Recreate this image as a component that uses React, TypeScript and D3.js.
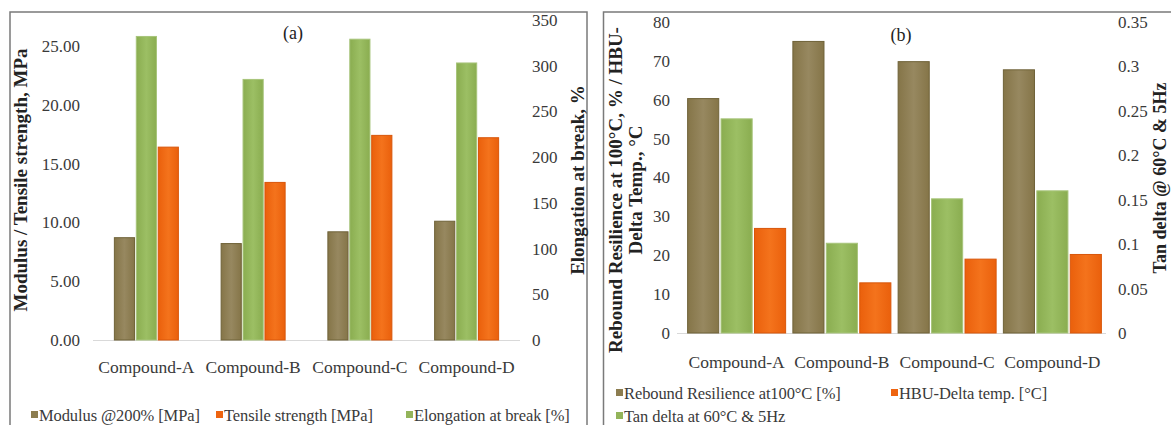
import React from "react";
import * as d3 from "d3";

const categories = ["Compound-A", "Compound-B", "Compound-C", "Compound-D"];

// Panel (a)
const modulus = [8.7, 8.2, 9.2, 10.1];
const tensile = [16.4, 13.4, 17.4, 17.2];
const elongation = [332, 285, 329, 303];
const aLeftTicks = [0, 5, 10, 15, 20, 25];
const aRightTicks = [0, 50, 100, 150, 200, 250, 300, 350];

// Panel (b)
const rebound = [60.3, 75, 69.8, 67.7];
const tanDelta = [0.241, 0.101, 0.151, 0.16];
const hbu = [26.9, 12.9, 19.0, 20.2];
const bLeftTicks = [0, 10, 20, 30, 40, 50, 60, 70, 80];
const bRightTicks = [0, 0.05, 0.1, 0.15, 0.2, 0.25, 0.3, 0.35];

const BROWN = "#8c7d50";
const GREEN = "#93b45a";
const ORANGE = "#ee6410";
const FONT = "'Liberation Serif', 'Times New Roman', serif";
const TEXT = "#3a3a3a";

const gradId: Record<string, string> = { [BROWN]: "gBrown", [GREEN]: "gGreen", [ORANGE]: "gOrange" };
const strokeOf: Record<string, string> = { [BROWN]: "#6f6238", [GREEN]: "#a7c47a", [ORANGE]: "#d8560a" };

type Series = { name: string; values: number[]; color: string; axis: "L" | "R" };

function Panel(props: {
  x0: number; x1: number; baseY: number; topY: number;
  lineX0: number; lineX1: number; groupW: number; pad: number;
  leftDomain: [number, number]; leftTop: number; rightDomain: [number, number];
  leftTicks: number[]; rightTicks: number[]; leftFmt: (v: number) => string; rightFmt: (v: number) => string;
  leftLabelX: number; rightLabelX: number; catY: number; series: Series[];
}) {
  const p = props;
  const xb = d3.scaleBand<string>().domain(categories).range([p.x0, p.x1]).padding(0);
  const yL = d3.scaleLinear().domain(p.leftDomain).range([p.baseY, p.leftTop]);
  const yR = d3.scaleLinear().domain(p.rightDomain).range([p.baseY, p.topY]);
  const inner = d3.scaleBand<string>().domain(p.series.map((s) => s.name)).range([-p.groupW / 2, p.groupW / 2]).paddingInner(p.pad).paddingOuter(0);
  return (
    <g>
      <line x1={p.lineX0} x2={p.lineX1} y1={p.baseY + 0.5} y2={p.baseY + 0.5} stroke="#d9d9d9" strokeWidth={1} />
      {p.series.map((s) =>
        s.values.map((v, i) => {
          const y = s.axis === "L" ? yL : yR;
          const cx = (xb(categories[i]) as number) + xb.bandwidth() / 2;
          const bx = cx + (inner(s.name) as number);
          return (
            <rect key={s.name + i} x={bx} y={y(v)} width={inner.bandwidth()} height={p.baseY - y(v)}
              fill={`url(#${gradId[s.color]})`} stroke={strokeOf[s.color]} strokeWidth={1} />
          );
        })
      )}
      {p.leftTicks.map((t) => (
        <text key={"l" + t} x={p.leftLabelX} y={yL(t)} dy="0.35em" textAnchor="end" fontSize={17} fill={TEXT} fontFamily={FONT}>{p.leftFmt(t)}</text>
      ))}
      {p.rightTicks.map((t) => (
        <text key={"r" + t} x={p.rightLabelX} y={yR(t)} dy="0.35em" textAnchor="start" fontSize={17} fill={TEXT} fontFamily={FONT}>{p.rightFmt(t)}</text>
      ))}
      {categories.map((c) => (
        <text key={c} x={(xb(c) as number) + xb.bandwidth() / 2} y={p.catY} dy="0.35em" textAnchor="middle" fontSize={17.5} fill={TEXT} fontFamily={FONT}>{c}</text>
      ))}
    </g>
  );
}

function LegendItem({ x, y, color, label }: { x: number; y: number; color: string; label: string }) {
  return (
    <g>
      <rect x={x} y={y - 4} width={7} height={7} fill={color} />
      <text x={x + 8} y={y} dy="0.35em" fontSize={16.5} fill={TEXT} fontFamily={FONT} letterSpacing={-0.1}>{label}</text>
    </g>
  );
}

function VTitle({ x, y, text, size = 19 }: { x: number; y: number; text: string; size?: number }) {
  return (
    <text transform={`translate(${x},${y}) rotate(-90)`} textAnchor="middle" dy="0.35em" fontSize={size} fontWeight="bold" fill="#222" fontFamily={FONT}>{text}</text>
  );
}

export default function App() {
  const seriesA: Series[] = [
    { name: "Modulus @200% [MPa]", values: modulus, color: BROWN, axis: "L" },
    { name: "Elongation at break [%]", values: elongation, color: GREEN, axis: "R" },
    { name: "Tensile strength [MPa]", values: tensile, color: ORANGE, axis: "L" },
  ];
  const seriesB: Series[] = [
    { name: "Rebound Resilience at100°C [%]", values: rebound, color: BROWN, axis: "L" },
    { name: "Tan delta at 60°C & 5Hz", values: tanDelta, color: GREEN, axis: "R" },
    { name: "HBU-Delta temp. [°C]", values: hbu, color: ORANGE, axis: "L" },
  ];
  const grad = (id: string, edge: string, mid: string) => (
    <linearGradient id={id} x1="0" x2="1" y1="0" y2="0">
      <stop offset="0" stopColor={edge} />
      <stop offset="0.5" stopColor={mid} />
      <stop offset="1" stopColor={edge} />
    </linearGradient>
  );
  return (
    <svg width={1171} height={425} style={{ position: "absolute", left: 0, top: 0, background: "#fff" }}>
      <defs>
        {grad("gBrown", "#857548", "#978860")}
        {grad("gGreen", "#8aad50", "#9cbf64")}
        {grad("gOrange", "#ea600c", "#f4731c")}
      </defs>
      <rect x={0} y={0} width={1171} height={425} fill="#fff" />
      {/* frames */}
      <rect x={10} y={12} width={577} height={430} fill="none" stroke="#7a7a7a" strokeWidth={1.5} />
      <rect x={603.5} y={12} width={600} height={430} fill="none" stroke="#7a7a7a" strokeWidth={1.5} />

      {/* Panel (a) */}
      <Panel x0={93} x1={520} baseY={340} topY={20} lineX0={93} lineX1={520} groupW={64} pad={0.08}
        leftDomain={[0, 25]} leftTop={46} rightDomain={[0, 350]}
        leftTicks={aLeftTicks} rightTicks={aRightTicks}
        leftFmt={(v) => v.toFixed(2)} rightFmt={(v) => String(v)}
        leftLabelX={80} rightLabelX={532} catY={367} series={seriesA} />
      <text x={293} y={33} dy="0.35em" textAnchor="middle" fontSize={18} fill="#222" fontFamily={FONT}>(a)</text>
      <VTitle x={20} y={180} text="Modulus / Tensile strength, MPa" />
      <VTitle x={577} y={180} text="Elongation at break, %" />
      <LegendItem x={31} y={415} color={BROWN} label="Modulus @200% [MPa]" />
      <LegendItem x={216} y={415} color={ORANGE} label="Tensile strength [MPa]" />
      <LegendItem x={406} y={415} color={GREEN} label="Elongation at break [%]" />

      {/* Panel (b) */}
      <Panel x0={684} x1={1105} baseY={333} topY={22} lineX0={677} lineX1={1106} groupW={98} pad={0.07}
        leftDomain={[0, 80]} leftTop={22} rightDomain={[0, 0.35]}
        leftTicks={bLeftTicks} rightTicks={bRightTicks}
        leftFmt={(v) => String(v)} rightFmt={(v) => String(+v.toFixed(2))}
        leftLabelX={670} rightLabelX={1118} catY={362} series={seriesB} />
      <text x={901} y={35} dy="0.35em" textAnchor="middle" fontSize={18} fill="#222" fontFamily={FONT}>(b)</text>
      <VTitle x={615} y={190} text="Rebound Resilience at 100°C, % / HBU-" />
      <VTitle x={635} y={190} text="Delta Temp., °C" />
      <VTitle x={1160} y={178} text="Tan delta @ 60°C & 5Hz" size={18} />
      <LegendItem x={616} y={393} color={BROWN} label="Rebound Resilience at100°C [%]" />
      <LegendItem x={891} y={393} color={ORANGE} label="HBU-Delta temp. [°C]" />
      <LegendItem x={616} y={416} color={GREEN} label="Tan delta at 60°C & 5Hz" />
    </svg>
  );
}
